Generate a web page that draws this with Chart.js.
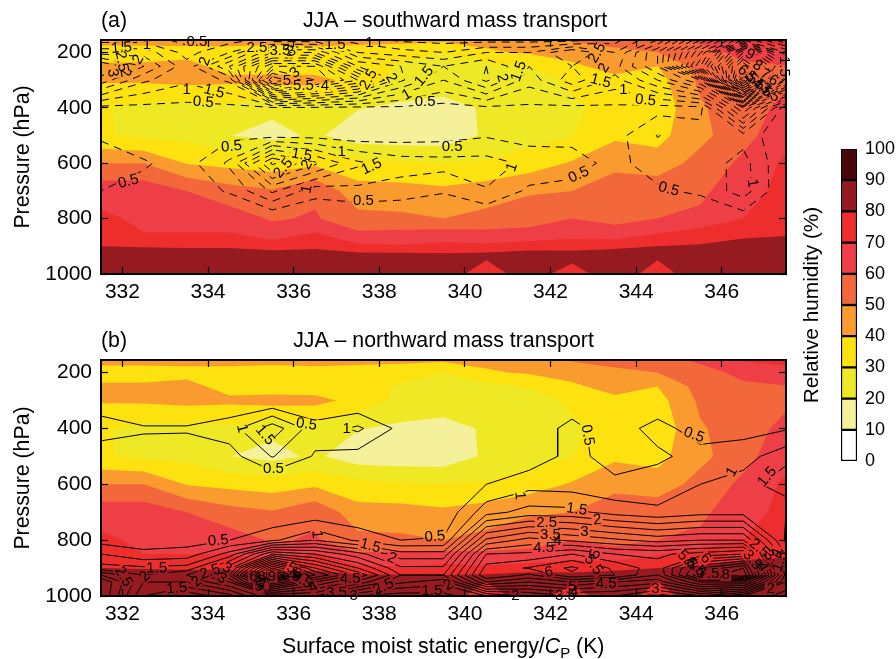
<!DOCTYPE html>
<html>
<head>
<meta charset="utf-8">
<title>JJA mass transport</title>
<script src="https://cdn.jsdelivr.net/npm/chart.js@4"></script>
<style>
  html, body { margin: 0; padding: 0; background: #fff; }
  #page { position: relative; width: 896px; height: 659px; overflow: hidden; }
  canvas { position: absolute; }
</style>
</head>
<body>
<div id="page">
  <canvas id="panelA" width="800" height="305" style="left:0;top:0"></canvas>
  <canvas id="panelB" width="800" height="339" style="left:0;top:320px"></canvas>
  <canvas id="colorBar" width="116" height="350" style="left:780px;top:130px"></canvas>
</div>
<script>
/* ── grid ── */
const energyK  = [331.5,332.5,333.5,334.5,335.5,336.5,337.5,338.5,339.5,340.5,341.5,342.5,343.5,344.5,345.5,346.5,347.5];
const pressure = [155,200,250,300,400,500,600,700,800,850,900,925,950,1000];

const xTicks = [332,334,336,338,340,342,344,346];
const pTicks = [200,400,600,800,1000];
const rhTicks = [0,10,20,30,40,50,60,70,80,90,100];

/* ── relative humidity (%), same field behind both panels ── */
const rh155  = [44,44,43,43,42,42,42,43,42,42,43,51,56,56,62,71,73];
const rh200  = [35,35,37,37,37,38,37,33,30,39,41,43,46,50,56,63,66];
const rh250  = [41.8,42,43,36.5,34.5,35,34,29,27,26,31,38.5,43,40,54,58,59.5];
const rh300  = [41,41.5,43,42,44,43,37,27,24.5,24,23,32.5,38,36,52,56,58];
const rh400  = [31,27,27,28,22.3,26.5,20.5,18,17,21,22,28,34,33,49,55,63];
const rh500  = [31,28,27,20.2,17,21.6,14.5,14,14,21.5,26,29.5,38,37,47,57,66];
const rh600  = [50,50,39.5,37,35,38,33,31,30,31,35,41,48,44,54,62,72];
const rh700  = [66,66,60,54,51,58,44,44,42,45,49,50,54,57,58,66,73];
const rh800  = [72,68,67,65,59,61,53,52,50,53,55,60,58,60,62,70,75];
const rh850  = [76,70,70,70,64,70,61,62,63,62,63,66,62.5,69,74,76,79];
const rh900  = [80,79.5,79,79,75,78,72,71,73,72,74,75,78,80,81,85,83];
const rh925  = [83,83,83,83,84,83,81,80.5,80,81,84,83,83,84,84,86,85];
const rh950  = [84,84,84,84,85,85,84,83,84,80,84,81,83,80,84,86,86];
const rh1000 = [85,85,85,85,85,85,85,85,83,77,83,77,84,77,84,85,86];

/* ── southward mass transport, panel (a) ── */
const s155  = [.8,.8,.3,.8,1.2,1.2,.8,.4,.3,.3,.3,.3,.8,2,5,8,6];
const s200  = [1.8,1.8,.8,1.5,3.5,3.5,1.5,1.2,1,1.5,1.5,2.5,1.5,3.5,7,12,8];
const s250  = [3.5,2.5,1.2,3,6,6,3,2.5,2,2.5,1.5,2,1.8,3.5,8,14,10];
const s300  = [2.8,1.6,1.1,1.6,8,6.5,5,2.6,1.5,2.6,1.2,2.3,1.3,2.5,4,16,6];
const s400  = [.35,.35,.35,.35,.4,.4,.35,.4,.3,.4,.4,.35,.4,.3,.35,3.5,.1];
const s500  = [.4,.2,.2,.35,.3,.3,.2,.25,.3,.45,.25,.35,.3,1.02,.7,.8,.1];
const s600  = [.9,.55,.3,1.1,3.6,2.6,1.6,1.25,1.2,1.2,.9,.7,.35,.75,.7,1.2,0];
const s700  = [.5,.35,.25,.55,1.6,.7,.85,.75,.55,.97,.4,.35,.2,.42,.6,1.25,0];
const s800  = [0,0,0,0,0,0,0,0,0,0,0,0,0,0,0,.2,0];
const s850  = [0,0,0,0,0,0,0,0,0,0,0,0,0,0,0,0,0];
const s900  = [0,0,0,0,0,0,0,0,0,0,0,0,0,0,0,0,0];
const s925  = [0,0,0,0,0,0,0,0,0,0,0,0,0,0,0,0,0];
const s950  = [0,0,0,0,0,0,0,0,0,0,0,0,0,0,0,0,0];
const s1000 = [0,0,0,0,0,0,0,0,0,0,0,0,0,0,0,0,0];

/* ── northward mass transport, panel (b) ── */
const n155  = [0,0,0,0,0,0,0,0,0,0,0,0,0,0,0,0,0];
const n200  = [0,0,0,0,0,0,0,0,0,0,0,0,0,0,0,0,0];
const n250  = [0,0,0,0,0,0,0,0,0,0,0,0,0,0,0,0,0];
const n300  = [.25,0,0,.1,0,0,0,.1,.05,.05,.05,.3,.1,.2,.1,.1,.1];
const n400  = [.7,.55,.55,.75,1.8,.7,1.1,.35,.3,.25,.3,.6,.3,.65,.3,.3,.45];
const n500  = [.25,.3,.25,.3,1.03,.45,.3,.2,.2,.2,.2,.65,.3,.42,.65,.8,1.3];
const n600  = [0,0,0,0,0,0,0,.05,.1,.5,.8,.75,.6,.7,1,1.2,1.9];
const n700  = [0,0,0,0,0,.1,0,.05,.1,1.3,1.7,1.65,1.3,1.1,1.3,1.3,1];
const n800  = [.3,.3,.3,.5,.9,1.5,.9,.5,.55,3.6,4.2,3.9,3.6,3.3,3.5,3.5,.9];
const n850  = [1,.6,.7,1.7,4,3.5,2.7,1.7,1.7,5,5.1,5.5,5,4.9,5.2,5.5,1.4];
const n900  = [1.7,1.6,1.7,3.3,8,5.5,4,2.6,2.6,5.7,6.05,6.6,5.9,5.2,7.5,8.5,2];
const n925  = [3,2,2.5,4,10,6.5,4.9,3,3,6,5.4,6.4,6,5,8,9,2.3];
const n950  = [4,2,2,3,7,5,3.8,2.6,2.2,5,4.5,5,4.5,4.2,6,6,2];
const n1000 = [4,1.5,.6,1.3,3,3,1.5,1.2,1.3,2,2.5,3,3,2.2,3,2,1.2];

const rhRows    = [rh155,rh200,rh250,rh300,rh400,rh500,rh600,rh700,rh800,rh850,rh900,rh925,rh950,rh1000];
const southRows = [s155,s200,s250,s300,s400,s500,s600,s700,s800,s850,s900,s925,s950,s1000];
const northRows = [n155,n200,n250,n300,n400,n500,n600,n700,n800,n850,n900,n925,n950,n1000];

const contourLevels = [.5,1,1.5,2,2.5,3,3.5,4,4.5,5,5.5,6,6.5,7,7.5,8,8.5,9,9.5,10,10.5,11,11.5,12,12.5,13,13.5,14,14.5,15,15.5];
const rhLevels = [0,10,20,30,40,50,60,70,80,90];
const rhColors = ['#ffffff','#f5f09a','#efe824','#fee20f','#f99b2e','#f3683a','#ee3f46','#ee2d2d','#951b21','#4a0508'];

/* contour labels: text, energy (K), pressure (hPa), rotation (deg) */
const southLabels = [
  ['1.5',331.98,184,-5],['2.5',331.98,232,80],['2',332.37,226,-60],['3',331.77,274,80],['2',332.06,274,80],
  ['1',332.57,172,0],['0.5',333.74,160,0],['2',333.93,232,-70],['1',333.5,335,0],['1.5',334.14,341,15],
  ['0.5',333.89,380,5],['2.5',335.14,184,0],['3.5',335.68,196,0],['3',335.95,196,-20],['3',336.03,274,-40],
  ['5',335.84,304,0],['5.5',336.23,322,0],['4',336.73,322,0],['2.5',337.75,298,-60],['2',338.28,292,60],
  ['1.5',339.05,286,-50],['1',338.64,353,-30],['0.5',339.07,377,0],['1.5',336.97,174,0],['1',337.77,166,0],
  ['0.5',334.55,540,-5],['1.5',336.19,570,10],['1',337.12,558,0],['2.5',335.76,618,-50],['2',336.31,606,-60],
  ['1.5',337.82,612,-25],['1',336.31,694,-80],['0.5',337.63,736,0],['0.5',332.14,666,-15],['0.5',339.7,540,0],
  ['2',340.87,292,75],['1.5',341.26,268,-70],['2.5',343.09,202,-60],['2',343.25,256,-60],['1.5',343.17,304,15],
  ['1',343.7,335,0],['0.5',344.22,373,5],['1',341.1,614,-70],['0.5',342.66,642,-25],['0.5',344.76,694,15],
  ['1',346.71,672,80],['9',346.66,207,30],['8',346.83,248,30],['7',347.01,280,30],['6',347.2,302,30],
  ['6.5',346.6,280,40],['5.5',346.78,302,40],['4.5',346.94,327,40],['3.5',347.13,345,40],['1.5',347.45,250,90]
];
const northLabels = [
  ['0.5',336.3,385,8],['1',334.79,400,75],['1.5',335.33,424,50],['1',337.24,403,0],['0.5',335.53,543,0],
  ['0.5',334.24,802,-5],['1',336.54,779,85],['1.5',337.79,821,15],['2',338.29,865,25],['1.5',332.8,901,-2],
  ['2',332.53,931,-45],['2.5',332.02,931,60],['1.5',333.27,973,-5],['2',333.74,949,-40],['2.5',334.05,913,-20],
  ['3',334.44,901,30],['3',334.32,937,30],['6',335.06,931,0],['8',335.25,931,0],['9',335.49,931,0],
  ['7',335.29,955,0],['5',335.18,969,0],['6',336.07,919,30],['5',335.95,901,30],['6.5',336.19,943,30],
  ['4',336.46,969,-30],['4.5',337.32,937,0],['3.5',337,987,0],['3',337.4,1000,0],['2.5',338.1,967,-25],
  ['1.5',339.23,982,0],['0.5',339.3,788,-5],['1',341.28,640,85],['1.5',342.61,690,8],['2',343.09,728,-5],
  ['2.5',341.91,738,0],['3',342.79,770,0],['3.5',342,782,0],['4',342.16,802,0],['4.5',341.84,829,0],
  ['5',343.05,849,-70],['5.5',343,889,55],['6',341.96,915,-10],['4.5',343.3,958,0],['5',342.51,967,0],
  ['4',342.55,984,0],['3.5',342.35,999,0],['3',344.45,973,0],['2',341.18,1000,0],['2',339.62,961,-30],
  ['0.5',342.86,424,80],['0.5',345.35,424,20],['1',346.24,555,-60],['1.5',347.06,573,-50],['5.5',345.19,871,45],
  ['6',345.62,865,45],['6.5',345.39,895,45],['7.5',345.7,919,0],['8',346.09,925,0],['2.5',346.87,829,40],
  ['3',347.1,855,40],['3.5',346.71,871,50],['4',346.95,895,60],['1',347.3,841,-70],['1.5',347.37,877,-70],['2',347.14,973,0]
];

const FONT = "'Liberation Sans', Arial, sans-serif";
const LABEL_FONT = `15px ${FONT}`;
Chart.defaults.font.family = FONT;
Chart.defaults.color = '#000';
Chart.defaults.animation = false;

/* ── marching squares ── */
function edgePoint(r1, c1, r2, c2, rows, level) {
  const v1 = rows[r1][c1], v2 = rows[r2][c2];
  const t = (level - v1) / (v2 - v1);
  return {
    x: energyK[c1] + t * (energyK[c2] - energyK[c1]),
    y: pressure[r1] + t * (pressure[r2] - pressure[r1]),
  };
}

// polygon of one grid cell where value >= level
function cellPolygon(rows, r, c, level) {
  const corners = [[r, c], [r, c + 1], [r + 1, c + 1], [r + 1, c]];
  const out = [];
  corners.forEach((p, i) => {
    const q = corners[(i + 1) % 4];
    const a = rows[p[0]][p[1]], b = rows[q[0]][q[1]];
    if (a >= level) out.push({ x: energyK[p[1]], y: pressure[p[0]] });
    if ((a >= level) !== (b >= level)) out.push(edgePoint(p[0], p[1], q[0], q[1], rows, level));
  });
  return out;
}

function traceContours(rows, level) {
  const segs = [];
  const nRows = rows.length, nCols = rows[0].length;
  for (let r = 0; r < nRows - 1; r++) {
    for (let c = 0; c < nCols - 1; c++) {
      const tl = rows[r][c] >= level, tr = rows[r][c + 1] >= level;
      const br = rows[r + 1][c + 1] >= level, bl = rows[r + 1][c] >= level;
      const top = `h${r}_${c}`, bot = `h${r + 1}_${c}`, left = `v${r}_${c}`, right = `v${r}_${c + 1}`;
      const cross = [];
      if (tl !== tr) cross.push(top);
      if (tr !== br) cross.push(right);
      if (bl !== br) cross.push(bot);
      if (tl !== bl) cross.push(left);
      if (cross.length === 2) segs.push(cross);
      if (cross.length === 4) {
        const mid = (rows[r][c] + rows[r][c + 1] + rows[r + 1][c + 1] + rows[r + 1][c]) / 4;
        if ((mid >= level) === tl) { segs.push([top, right]); segs.push([bot, left]); }
        else { segs.push([top, left]); segs.push([bot, right]); }
      }
    }
  }
  const pointOf = key => {
    const [r, c] = key.slice(1).split('_').map(Number);
    return key[0] === 'h' ? edgePoint(r, c, r, c + 1, rows, level) : edgePoint(r, c, r + 1, c, rows, level);
  };
  const byEdge = {};
  segs.forEach((s, i) => s.forEach(k => (byEdge[k] = byEdge[k] || []).push(i)));
  const used = new Set();
  const walk = startKey => {
    const line = [pointOf(startKey)];
    let key = startKey;
    for (;;) {
      const next = byEdge[key].find(i => !used.has(i));
      if (next === undefined) break;
      used.add(next);
      key = segs[next][0] === key ? segs[next][1] : segs[next][0];
      line.push(pointOf(key));
    }
    return line;
  };
  const lines = [];
  Object.keys(byEdge).filter(k => byEdge[k].length === 1).forEach(k => {
    if (!used.has(byEdge[k][0])) lines.push(walk(k));
  });
  segs.forEach((s, i) => { if (!used.has(i)) lines.push(walk(s[0])); });
  return lines;
}

function contourDatasets(rows, dash) {
  const sets = [];
  contourLevels.forEach(level => {
    traceContours(rows, level).forEach(line => {
      sets.push({
        data: line,
        showLine: true,
        pointRadius: 0,
        borderColor: '#000',
        borderWidth: 1,
        borderDash: dash,
        tension: 0,
        xAxisID: 'x',
        yAxisID: 'y',
      });
    });
  });
  return sets;
}

/* ── plugins ── */
function labelBox(chart, lab) {
  const ctx = chart.ctx;
  const px = chart.scales.x.getPixelForValue(lab[1]);
  const py = chart.scales.y.getPixelForValue(lab[2]);
  const w = ctx.measureText(lab[0]).width / 2 + 1.5, h = 6;
  const a = lab[3] * Math.PI / 180, cos = Math.cos(a), sin = Math.sin(a);
  const corners = [[-w,-h],[w,-h],[w,h],[-w,h]].map(p => [px + p[0]*cos - p[1]*sin, py + p[0]*sin + p[1]*cos]);
  return { px, py, a, corners };
}

const contourPlugin = {
  id: 'contourFill',
  beforeDatasetsDraw(chart) {
    const ctx = chart.ctx, xs = chart.scales.x, ys = chart.scales.y, area = chart.chartArea;
    ctx.save();
    ctx.beginPath();
    ctx.rect(area.left, area.top, area.width, area.height);
    ctx.clip();
    rhLevels.forEach((level, i) => {
      ctx.beginPath();
      for (let r = 0; r < rhRows.length - 1; r++) {
        for (let c = 0; c < energyK.length - 1; c++) {
          const poly = cellPolygon(rhRows, r, c, level);
          poly.forEach((p, k) => {
            const px = xs.getPixelForValue(p.x), py = ys.getPixelForValue(p.y);
            if (k === 0) ctx.moveTo(px, py); else ctx.lineTo(px, py);
          });
          if (poly.length) ctx.closePath();
        }
      }
      ctx.fillStyle = rhColors[i];
      ctx.fill();
    });
    ctx.restore();

    // leave a gap in the contour lines under each label
    ctx.save();
    ctx.font = LABEL_FONT;
    ctx.beginPath();
    ctx.rect(0, 0, chart.width, chart.height);
    chart.options.plugins.contourFill.labels.forEach(lab => {
      const b = labelBox(chart, lab);
      b.corners.forEach((p, k) => k === 0 ? ctx.moveTo(p[0], p[1]) : ctx.lineTo(p[0], p[1]));
      ctx.closePath();
    });
    ctx.clip('evenodd');
  },
  afterDatasetsDraw(chart) {
    const ctx = chart.ctx;
    ctx.restore();
    ctx.save();
    ctx.font = LABEL_FONT;
    ctx.fillStyle = '#000';
    ctx.textAlign = 'center';
    ctx.textBaseline = 'middle';
    chart.options.plugins.contourFill.labels.forEach(lab => {
      const b = labelBox(chart, lab);
      ctx.save();
      ctx.translate(b.px, b.py);
      ctx.rotate(b.a);
      ctx.fillText(lab[0], 0, 0);
      ctx.restore();
    });
    ctx.restore();
  },
  afterDraw(chart) {
    const ctx = chart.ctx, o = chart.options.plugins.contourFill;
    ctx.save();
    ctx.font = `21.3px ${FONT}`;
    ctx.fillStyle = '#000';
    ctx.textBaseline = 'middle';
    ctx.textAlign = 'left';
    ctx.fillText(o.tag, 101, 21);
    ctx.textAlign = 'center';
    ctx.fillText(o.title, o.titleX, 21);
    if (o.xTitle) {
      // x title with the italic C and subscript P
      const parts = ['Surface moist static energy/', 'C', 'P', ' (K)'];
      ctx.textAlign = 'left';
      let x = 282;
      const y = 327;
      ctx.fillText(parts[0], x, y); x += ctx.measureText(parts[0]).width;
      ctx.font = `italic 21.3px ${FONT}`;
      ctx.fillText(parts[1], x, y); x += ctx.measureText(parts[1]).width;
      ctx.font = `15px ${FONT}`;
      ctx.fillText(parts[2], x, y + 7); x += ctx.measureText(parts[2]).width;
      ctx.font = `21.3px ${FONT}`;
      ctx.fillText(parts[3], x, y);
    }
    ctx.restore();
  },
};

/* ── axes ── */
const fixedTicks = list => s => { s.ticks = list.map(v => ({ value: v })); };
const fixWidth  = w => s => { s.width = w; };
const fixHeight = h => s => { s.height = h; };

function frameScale(list, extra) {
  return Object.assign({
    afterBuildTicks: fixedTicks(list),
    grid: { drawOnChartArea: false, drawTicks: true, tickLength: -7, tickColor: '#000', tickWidth: 1.2, z: 1 },
    border: { display: true, color: '#000', width: 2, z: 1 },
  }, extra);
}

function panelChart(id, rows, dash, labels, bottomSpace, text) {
  return new Chart(document.getElementById(id), {
    type: 'scatter',
    data: { datasets: contourDatasets(rows, dash) },
    plugins: [contourPlugin],
    options: {
      responsive: false,
      devicePixelRatio: 1,
      layout: { padding: { top: 40, right: 14, left: 0, bottom: 0 } },
      plugins: {
        legend: { display: false },
        tooltip: { enabled: false },
        contourFill: Object.assign({ labels }, text),
      },
      scales: {
        x: frameScale(xTicks, {
          type: 'linear', position: 'bottom', min: 331.5, max: 347.5,
          afterFit: fixHeight(bottomSpace),
          ticks: { autoSkip: false, maxRotation: 0, padding: 13, font: { size: 21 }, callback: v => String(v) },
        }),
        x2: frameScale(xTicks, {
          type: 'linear', axis: 'x', position: 'top', min: 331.5, max: 347.5,
          afterFit: fixHeight(0),
          ticks: { display: false },
        }),
        y: frameScale(pTicks, {
          type: 'linear', position: 'left', min: 155, max: 1000, reverse: true,
          afterFit: fixWidth(101),
          title: { display: true, text: 'Pressure (hPa)', font: { size: 21.3 }, padding: { top: 10, bottom: 0 } },
          ticks: { autoSkip: false, padding: 16, font: { size: 21 }, callback: v => String(v) },
        }),
        y2: frameScale(pTicks, {
          type: 'linear', axis: 'y', position: 'right', min: 155, max: 1000, reverse: true,
          afterFit: fixWidth(0),
          ticks: { display: false },
        }),
      },
    },
  });
}

panelChart('panelA', southRows, [8, 6], southLabels, 31,
  { tag: '(a)', title: 'JJA \u2013 southward mass transport', titleX: 455 });
panelChart('panelB', northRows, [], northLabels, 63,
  { tag: '(b)', title: 'JJA \u2013 northward mass transport', titleX: 443.5, xTitle: true });

/* ── colour bar ── */
new Chart(document.getElementById('colorBar'), {
  type: 'bar',
  data: {
    labels: [''],
    datasets: rhColors.map(color => ({
      data: [10],
      backgroundColor: color,
      borderColor: '#000',
      borderWidth: 1.5,
      borderSkipped: false,
      barPercentage: 1,
      categoryPercentage: 1,
    })),
  },
  options: {
    responsive: false,
    devicePixelRatio: 1,
    layout: { padding: { top: 19, bottom: 19, left: 0, right: 0 } },
    plugins: { legend: { display: false }, tooltip: { enabled: false } },
    scales: {
      x: { stacked: true, display: false },
      y: {
        stacked: true, position: 'right', min: 0, max: 100,
        afterBuildTicks: fixedTicks(rhTicks),
        afterFit: fixWidth(39),
        grid: { display: false, drawTicks: false },
        border: { display: false },
        ticks: { padding: 8, font: { size: 18 }, autoSkip: false, callback: v => String(v) },
      },
      yTitle: {
        type: 'linear', axis: 'y', position: 'left', min: 0, max: 100,
        afterFit: fixWidth(61),
        grid: { display: false, drawTicks: false },
        border: { display: false },
        ticks: { display: false },
        title: { display: true, text: 'Relative humidity (%)', font: { size: 20.8 }, padding: { top: 20, bottom: 0 } },
      },
    },
  },
});
</script>
</body>
</html>
